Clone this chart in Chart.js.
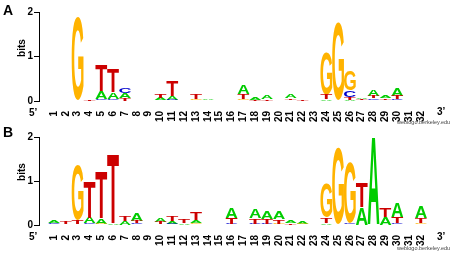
<!DOCTYPE html>
<html>
<head>
<meta charset="utf-8">
<script src="https://cdn.jsdelivr.net/npm/chart.js@4/dist/chart.umd.min.js"></script>
<style>
body { margin: 0; background: #fff; }
#wrap { position: relative; width: 451px; height: 255px; font-family: "Liberation Sans", Arial, sans-serif; font-weight: bold; color: #000; }
.lbl { position: absolute; white-space: nowrap; line-height: 1; }
.bits { font-size: 10px; transform: translate(-50%, -50%) rotate(-90deg); }
.site { font-size: 5.5px; font-weight: normal; color: #444; }
canvas { position: absolute; left: 0; }
</style>
</head>
<body>
<div id="wrap">
  <canvas id="logoA" width="451" height="125" style="top:0px"></canvas>
  <canvas id="logoB" width="451" height="130" style="top:125px"></canvas>
  <div class="lbl" style="left:3px;top:3px;font-size:14px">A</div>
  <div class="lbl" style="left:3px;top:125px;font-size:14px">B</div>
  <div class="lbl bits" style="left:21.5px;top:47.5px">bits</div>
  <div class="lbl bits" style="left:21.5px;top:172px">bits</div>
  <div class="lbl" style="left:29px;top:108px;font-size:10px">5’</div>
  <div class="lbl" style="left:29px;top:232px;font-size:10px">5’</div>
  <div class="lbl" style="left:437px;top:107px;font-size:10px">3’</div>
  <div class="lbl" style="left:437px;top:232px;font-size:10px">3’</div>
  <div class="lbl site" style="left:397px;top:120px">weblogo.berkeley.edu</div>
  <div class="lbl site" style="left:397px;top:246px">weblogo.berkeley.edu</div>
</div>
<script>
// positions 1..32
var positions = [1,2,3,4,5,6,7,8,9,10,11,12,13,14,15,16,17,18,19,20,21,22,23,24,25,26,27,28,29,30,31,32];
var letters = ['A', 'C', 'G', 'T'];
var letterColors = { A: '#00cc00', C: '#0000cc', G: '#ffb300', T: '#cc0000' };

// panel A, bits per letter
var aA = [0,0,0,0,0.18,0.15,0.11,0,0,0.05,0.08,0,0,0.04,0,0,0.21,0.05,0.07,0,0.09,0,0,0.05,0,0.03,0.04,0.15,0.06,0.17,0,0];
var cA = [0,0,0,0,0.04,0.05,0.13,0,0,0,0.03,0,0,0,0,0,0,0,0,0,0,0,0,0,0,0.14,0.02,0.04,0.02,0.04,0,0];
var gA = [0,0,1.87,0,0,0,0,0,0,0.02,0,0,0.04,0.02,0,0,0.05,0,0,0,0.02,0,0,0.93,1.75,0.45,0,0.02,0,0,0,0];
var tA = [0,0,0,0.05,0.58,0.52,0.07,0,0,0.07,0.34,0,0.1,0,0,0,0.1,0.03,0.04,0,0.04,0.03,0,0.1,0,0.06,0.03,0.06,0.04,0.07,0,0];

// panel B
var aB = [0.06,0.02,0.02,0.13,0.12,0.05,0.09,0.18,0,0.08,0.05,0.05,0.07,0,0,0.22,0,0.2,0.18,0.17,0.06,0.05,0,0.04,0,0,0.4,1.98,0.18,0.33,0,0.27];
var cB = [0.03,0,0,0.04,0,0,0,0.04,0,0,0.03,0,0,0,0,0.03,0,0.03,0.03,0,0,0,0,0,0.02,0.05,0,0,0,0.04,0,0];
var gB = [0,0,1.26,0,0.03,0,0,0,0,0.02,0,0,0.04,0,0,0,0,0,0,0.03,0,0.03,0,0.79,1.73,1.38,0,0,0,0,0,0.04];
var tB = [0.02,0.05,0.1,0.81,1.06,1.57,0.12,0.05,0,0.05,0.12,0.1,0.16,0,0,0.13,0,0.12,0.11,0.1,0.04,0,0,0.12,0,0,0.55,0,0.2,0.14,0,0.12];

var tickFont = { family: 'Liberation Sans', weight: 'bold', size: 10 };

// smallest letter at the bottom, biggest on top
function stackColumns(cols) {
  var out = { A: [], C: [], G: [], T: [] };
  positions.forEach(function(p, i) {
    var col = letters.map(function(l) { return { l: l, h: cols[l][i] }; })
      .filter(function(c) { return c.h > 0; })
      .sort(function(a, b) { return a.h - b.h; });
    var base = 0;
    col.forEach(function(c) {
      out[c.l].push({ x: p, y: [base, base + c.h] });
      base += c.h;
    });
  });
  return out;
}

function drawGlyph(ctx, ch, color, x, top, w, h) {
  ctx.save();
  ctx.font = 'bold 100px "Liberation Sans"';
  var m = ctx.measureText(ch);
  var gw = m.actualBoundingBoxLeft + m.actualBoundingBoxRight;
  var gh = m.actualBoundingBoxAscent + m.actualBoundingBoxDescent;
  ctx.translate(x, top);
  ctx.scale(w / gw, h / gh);
  ctx.fillStyle = color;
  ctx.textAlign = 'left';
  ctx.textBaseline = 'alphabetic';
  ctx.fillText(ch, m.actualBoundingBoxLeft, m.actualBoundingBoxAscent);
  ctx.restore();
}

var letterPlugin = {
  id: 'letters',
  afterDatasetsDraw: function(chart) {
    var ctx = chart.ctx;
    chart.data.datasets.forEach(function(ds, di) {
      chart.getDatasetMeta(di).data.forEach(function(bar) {
        var p = bar.getProps(['x', 'y', 'base', 'width'], true);
        var top = Math.min(p.y, p.base), h = Math.abs(p.base - p.y);
        if (h < 0.3) return;
        drawGlyph(ctx, ds.label, letterColors[ds.label], p.x - p.width / 2, top, p.width, h);
      });
    });
  }
};

function makeLogo(id, cols, xHeight) {
  var stacked = stackColumns(cols);
  return new Chart(document.getElementById(id), {
    type: 'bar',
    data: {
      datasets: letters.map(function(l) {
        return {
          label: l,
          data: stacked[l],
          grouped: false,
          barPercentage: 1,
          categoryPercentage: 1,
          backgroundColor: 'rgba(0,0,0,0)',
          borderWidth: 0
        };
      })
    },
    options: {
      responsive: false,
      animation: false,
      layout: { padding: { top: 12, left: 0, right: 18, bottom: 0 } },
      plugins: { legend: { display: false }, tooltip: { enabled: false } },
      scales: {
        x: {
          type: 'linear',
          min: 0.25,
          max: 32.5,
          grid: { display: false },
          border: { display: false },
          afterBuildTicks: function(s) { s.ticks = positions.map(function(v) { return { value: v }; }); },
          afterFit: function(s) { s.height = xHeight; },
          ticks: { autoSkip: false, minRotation: 90, maxRotation: 90, padding: 2, color: '#000', font: tickFont }
        },
        y: {
          min: 0,
          max: 2,
          afterFit: function(s) { s.width = 39; },
          ticks: { stepSize: 1, padding: 1, color: '#000', font: tickFont },
          grid: { drawOnChartArea: false, tickLength: 5, color: '#000' },
          border: { display: true, color: '#000' }
        }
      }
    },
    plugins: [letterPlugin]
  });
}

makeLogo('logoA', { A: aA, C: cA, G: gA, T: tA }, 24);
makeLogo('logoB', { A: aB, C: cB, G: gB, T: tB }, 30);
</script>
</body>
</html>
